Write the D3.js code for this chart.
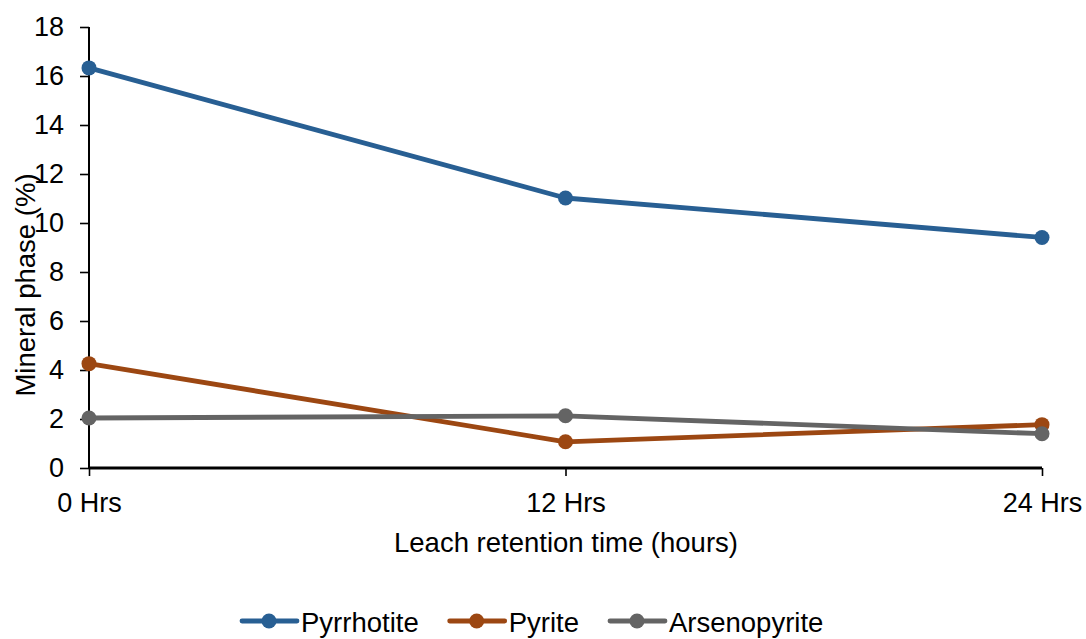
<!DOCTYPE html>
<html>
<head>
<meta charset="utf-8">
<script src="https://cdn.jsdelivr.net/npm/d3@7"></script>
<style>
  html, body { margin: 0; padding: 0; background: #fff; }
  svg { display: block; font-family: "Liberation Sans", Arial, sans-serif; }
</style>
</head>
<body>
<svg id="chart" width="1086" height="639"></svg>
<script>
// Mineral phase content over leach retention time
const categories = ["0 Hrs", "12 Hrs", "24 Hrs"];
const seriesNames = ["Pyrrhotite", "Pyrite", "Arsenopyrite"];
const pyrrhotite = [16.33, 11.02, 9.41];
const pyrite = [4.26, 1.07, 1.77];
const arsenopyrite = [2.04, 2.13, 1.40];
const yTicks = [0, 2, 4, 6, 8, 10, 12, 14, 16, 18];
const colors = ["#285F93", "#9C4712", "#646464"];

const series = [pyrrhotite, pyrite, arsenopyrite].map((values, i) => ({
  name: seriesNames[i], values, color: colors[i]
}));

const FONT = '"Liberation Sans", Arial, sans-serif';
const svg = d3.select("#chart");
const plotLeft = 89, plotRight = 1042, plotTop = 27, plotBottom = 468;

const x = d3.scalePoint().domain(categories).range([plotLeft, plotRight]);
const y = d3.scaleLinear().domain([0, 18]).range([plotBottom, plotTop]);

// Y axis
const yAxis = svg.append("g")
  .attr("transform", `translate(${plotLeft},0)`)
  .attr("font-family", FONT)
  .call(d3.axisLeft(y).tickValues(yTicks).tickSize(9).tickPadding(16));
yAxis.select(".domain").attr("stroke", "#000").attr("stroke-width", 2)
  .attr("d", `M0,${plotBottom}V${plotTop}`);
yAxis.selectAll(".tick line").attr("stroke", "#000").attr("stroke-width", 1.6);
yAxis.selectAll(".tick text").attr("font-size", 27).attr("fill", "#000");

// X axis
const xAxis = svg.append("g")
  .attr("transform", `translate(0,${plotBottom})`)
  .attr("font-family", FONT)
  .call(d3.axisBottom(x).tickSize(8));
xAxis.select(".domain").attr("stroke", "#000").attr("stroke-width", 2.8)
  .attr("d", `M${plotLeft},0H${plotRight}`);
xAxis.selectAll(".tick line").attr("stroke", "#000").attr("stroke-width", 1.6);
xAxis.selectAll(".tick text").attr("font-size", 27).attr("fill", "#000")
  .attr("y", 44).attr("dy", 0);

// Axis titles
svg.append("text")
  .attr("x", 566).attr("y", 552)
  .attr("text-anchor", "middle").attr("font-size", 27.5).attr("fill", "#000")
  .text("Leach retention time (hours)");
svg.append("text")
  .attr("transform", "translate(35,285) rotate(-90)")
  .attr("text-anchor", "middle").attr("font-size", 27.5).attr("fill", "#000")
  .text("Mineral phase (%)");

// Lines and markers
const line = d3.line().x((d, i) => x(categories[i])).y(d => y(d));
series.forEach(s => {
  svg.append("path")
    .attr("d", line(s.values))
    .attr("fill", "none").attr("stroke", s.color)
    .attr("stroke-width", 4.8).attr("stroke-linejoin", "round");
  svg.selectAll(null).data(s.values).enter().append("circle")
    .attr("cx", (d, i) => x(categories[i])).attr("cy", d => y(d))
    .attr("r", 7.5).attr("fill", s.color);
});

// Legend: entries laid out left to right from measured text widths
const legendY = 621;
const leg = svg.append("g");
let cursor = 242;
series.forEach(s => {
  const g = leg.append("g").attr("transform", `translate(${cursor},${legendY})`);
  g.append("line").attr("x1", 0).attr("x2", 55).attr("y1", 0).attr("y2", 0)
    .attr("stroke", s.color).attr("stroke-width", 4.8).attr("stroke-linecap", "round");
  g.append("circle").attr("cx", 27).attr("cy", 0).attr("r", 7.5).attr("fill", s.color);
  const t = g.append("text").attr("x", 59).attr("y", 10.5)
    .attr("font-size", 27.5).attr("fill", "#000").text(s.name);
  cursor += 59 + t.node().getComputedTextLength() + 31;
});
</script>
</body>
</html>
